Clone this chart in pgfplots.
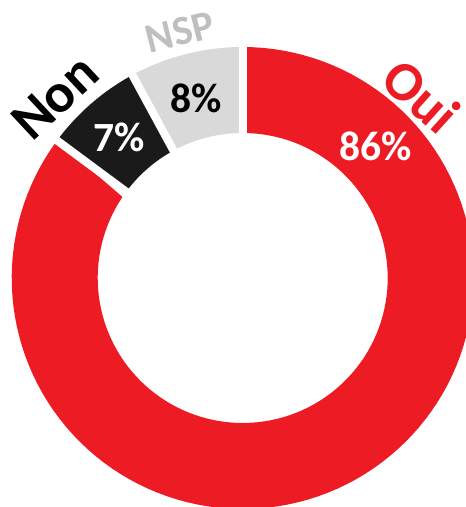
\documentclass[border=0pt]{standalone}
\usepackage{fontspec}
\setmainfont{Carlito}
\usepackage{pgfplots}
\pgfplotsset{compat=1.18}
\definecolor{ocred}{HTML}{ED1C24}
\definecolor{nonblack}{HTML}{1A1A1A}
\definecolor{nspgray}{HTML}{D9D9D9}
\definecolor{nsplabel}{HTML}{BFBFBF}
% data (percent)
\def\vOui{86}
\def\vNon{7}
\def\vNSP{8}
\def\Rout{231}
\def\Rin{145}
\pgfmathsetmacro{\tot}{\vOui+\vNon+\vNSP}
\pgfmathsetmacro{\aA}{90}
\pgfmathsetmacro{\aB}{\aA-360*(\vOui/\tot)}
\pgfmathsetmacro{\aC}{\aB-360*(\vNon/\tot)}
\pgfmathsetmacro{\aD}{\aC-360*(\vNSP/\tot)}
\pgfmathsetmacro{\xA}{250*cos(\aA)}\pgfmathsetmacro{\yA}{250*sin(\aA)}
\pgfmathsetmacro{\xB}{250*cos(\aB)}\pgfmathsetmacro{\yB}{250*sin(\aB)}
\pgfmathsetmacro{\xC}{250*cos(\aC)}\pgfmathsetmacro{\yC}{250*sin(\aC)}
\newcommand{\ringsector}[3]{%
  \addplot[fill=#1, draw=none, domain=0:2, samples=241, variable=\t]
  ({(\t<=1) ? \Rout*cos(#2+(#3-#2)*\t) : \Rin*cos(#3+(#2-#3)*(\t-1))},
   {(\t<=1) ? \Rout*sin(#2+(#3-#2)*\t) : \Rin*sin(#3+(#2-#3)*(\t-1))});
}
\begin{document}
\begin{tikzpicture}
\begin{axis}[
  scale only axis, width=4.66in, height=5.07in,
  xmin=-242.7, xmax=223.3, ymin=-229, ymax=278,
  hide axis, clip=true]
\ringsector{ocred}{\aA}{\aB}
\ringsector{nonblack}{\aB}{\aC}
\ringsector{nspgray}{\aC}{\aD}
\addplot[white, line width=5.8pt] coordinates {(0,0) (\xA,\yA)};
\addplot[white, line width=5.8pt] coordinates {(0,0) (\xB,\yB)};
\addplot[white, line width=5.8pt] coordinates {(0,0) (\xC,\yC)};
% value labels
\node[white, font=\fontsize{30}{31}\selectfont\bfseries] at (axis cs:133.1,132) {86\%};
\node[white, font=\fontsize{30}{31}\selectfont\bfseries] at (axis cs:-123.7,140.5) {7\%};
\node[black, font=\fontsize{30}{31}\selectfont\bfseries] at (axis cs:-46.7,180) {8\%};
% category labels
\node[ocred, rotate=-42, font=\fontsize{40}{41}\selectfont\bfseries] at (axis cs:179.1,182.2) {Oui};
\node[black, rotate=43, font=\fontsize{40}{41}\selectfont\bfseries] at (axis cs:-187.5,180.8) {Non};
\node[nsplabel, rotate=14, font=\fontsize{30}{31}\selectfont\bfseries] at (axis cs:-62.7,246) {NSP};
\end{axis}
\pgfresetboundingbox
\path (current axis.south west) rectangle (current axis.north east);
\end{tikzpicture}
\end{document}
